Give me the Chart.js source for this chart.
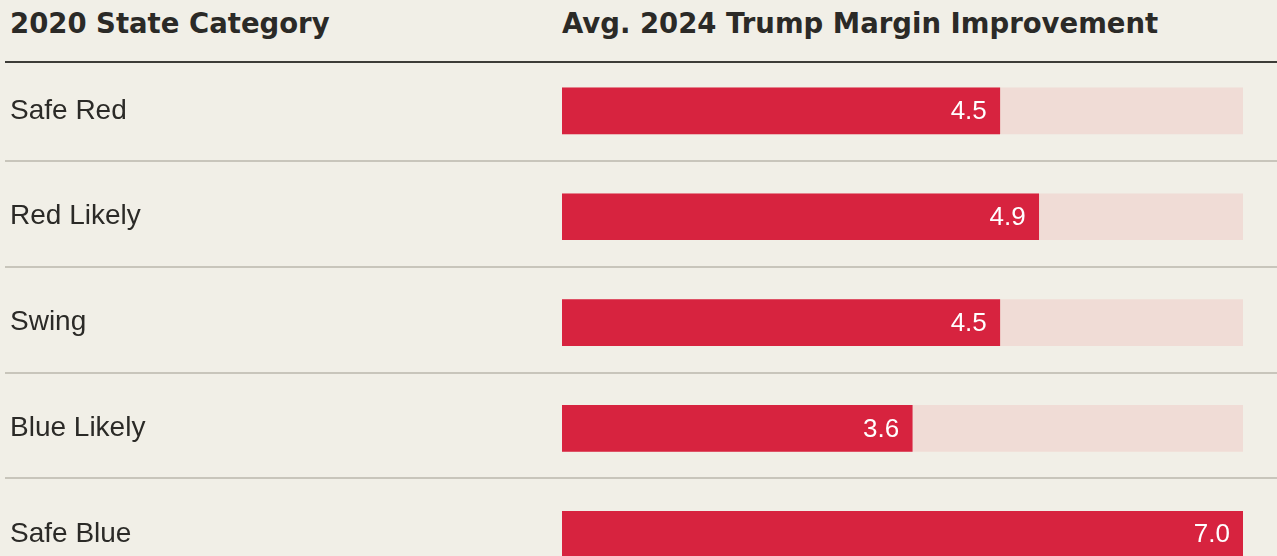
<!DOCTYPE html>
<html>
<head>
<meta charset="utf-8">
<script src="https://cdn.jsdelivr.net/npm/chart.js@4.4.1/dist/chart.umd.min.js"></script>
<style>
  html, body { margin: 0; padding: 0; background: #f1efe7; overflow: hidden; }
  body { width: 1277px; height: 556px; position: relative; }
  .hdr { position: absolute; top: 10px; font-family: "DejaVu Sans", sans-serif; font-weight: bold; font-size: 27.5px; line-height: 1; color: #2b2a27; white-space: nowrap; letter-spacing: 0; }
  #wrap { position: absolute; left: 0; top: 0; width: 1277px; height: 604px; }
</style>
</head>
<body>
<div class="hdr" style="left:10px">2020 State Category</div>
<div class="hdr" style="left:562px">Avg. 2024 Trump Margin Improvement</div>
<div id="wrap"><canvas id="c"></canvas></div>
<script>
const categories = ["Safe Red", "Red Likely", "Swing", "Blue Likely", "Safe Blue"];
const marginImprovement = [4.5, 4.9, 4.5, 3.6, 7.0];
const trackValues = [7.0, 7.0, 7.0, 7.0, 7.0];
const axisMax = 7.0;

const decorPlugin = {
  id: 'decor',
  beforeDatasetsDraw(chart) {
    const ctx = chart.ctx;
    const y = chart.scales.y;
    ctx.save();
    ctx.strokeStyle = '#3d3c38';
    ctx.lineWidth = 2;
    ctx.beginPath();
    ctx.moveTo(5, 62);
    ctx.lineTo(chart.width, 62);
    ctx.stroke();
    ctx.strokeStyle = '#c8c5bb';
    ctx.lineWidth = 2;
    for (let i = 0; i < categories.length - 1; i++) {
      const yy = Math.round((y.getPixelForValue(i) + y.getPixelForValue(i + 1)) / 2) - 3;
      ctx.beginPath();
      ctx.moveTo(5, yy);
      ctx.lineTo(chart.width, yy);
      ctx.stroke();
    }
    ctx.restore();
  },
  afterDatasetsDraw(chart) {
    const ctx = chart.ctx;
    const meta = chart.getDatasetMeta(0);
    ctx.save();
    ctx.fillStyle = '#ffffff';
    ctx.font = '26px "Liberation Sans", Arial, sans-serif';
    ctx.textAlign = 'right';
    ctx.textBaseline = 'middle';
    meta.data.forEach((bar, i) => {
      ctx.fillText(marginImprovement[i].toFixed(1), bar.x - 13, bar.y + 1);
    });
    ctx.restore();
  }
};

new Chart(document.getElementById('c'), {
  type: 'bar',
  data: {
    labels: categories,
    datasets: [
      {
        data: marginImprovement,
        backgroundColor: '#d7233f',
        barThickness: 46,
        grouped: false,
        order: 0
      },
      {
        data: trackValues,
        backgroundColor: '#f0dcd6',
        barThickness: 46,
        grouped: false,
        order: 1
      }
    ]
  },
  options: {
    indexAxis: 'y',
    responsive: true,
    maintainAspectRatio: false,
    animation: false,
    layout: { padding: { top: 58, bottom: 8, left: 10, right: 34 } },
    plugins: { legend: { display: false }, tooltip: { enabled: false } },
    scales: {
      x: { min: 0, max: axisMax, display: false },
      y: {
        grid: { display: false },
        border: { display: false },
        afterFit(scale) { scale.width = 552; },
        ticks: {
          crossAlign: 'far',
          padding: 0,
          labelOffset: 0,
          color: '#2b2a27',
          font: { family: '"Liberation Sans", Arial, sans-serif', size: 28 }
        }
      }
    }
  },
  plugins: [decorPlugin]
});
</script>
</body>
</html>
